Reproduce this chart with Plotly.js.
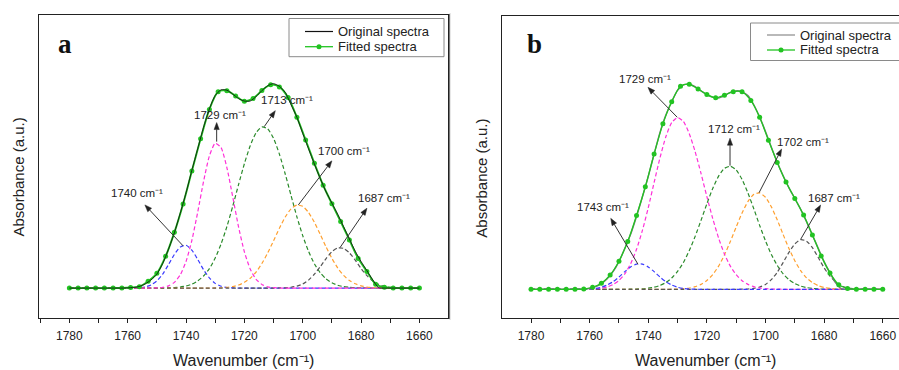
<!DOCTYPE html>
<html>
<head>
<meta charset="utf-8">
<script src="https://cdn.plot.ly/plotly-3.0.1.min.js"></script>
<style>
html,body{margin:0;padding:0;background:#fff;overflow:hidden;}
#chart{width:899px;height:370px;}
</style>
</head>
<body>
<div id="chart"></div>
<script>
// ---------- DATA ----------
const wnFit = [1780,1777,1774,1771,1768,1765,1762,1759,1756,1753,1750,1747,1744,1741,1738,1735,1732,1729,1726,1723,1720,1717,1714,1711,1708,1705,1702,1699,1696,1693,1690,1687,1684,1681,1678,1675,1672,1669,1666,1663,1660];
const wnComp = [1780,1778,1776,1774,1772,1770,1768,1766,1764,1762,1760,1758,1756,1754,1752,1750,1748,1746,1744,1742,1740,1738,1736,1734,1732,1730,1728,1726,1724,1722,1720,1718,1716,1714,1712,1710,1708,1706,1704,1702,1700,1698,1696,1694,1692,1690,1688,1686,1684,1682,1680,1678,1676,1674,1672,1670,1668,1666,1664,1662,1660];
const xTickVals = [1780,1760,1740,1720,1700,1680,1660];
const xTickText = ['1780','1760','1740','1720','1700','1680','1660'];
const legendNames = ['Original spectra','Fitted spectra'];

// Panel a
const fittedA = [0,0,0,0,0,0,0.001,0.003,0.007,0.033,0.072,0.155,0.272,0.411,0.571,0.729,0.872,0.958,0.963,0.938,0.912,0.926,0.964,0.993,0.982,0.93,0.834,0.723,0.609,0.502,0.412,0.325,0.235,0.145,0.081,0.019,0.004,0.001,0,0,0];
const originalA = [0,0,0,0,0,0,0,0,0,0,
 0.001,0.003,0.008,0.02,0.04,0.068,0.12,0.19,0.27,0.365,
 0.465,0.575,0.68,0.785,0.875,0.94,0.968,0.966,0.947,0.925,
 0.913,0.913,0.935,0.964,0.988,0.998,0.985,0.955,0.895,0.834,
 0.755,0.68,0.605,0.535,0.47,0.415,0.36,0.3,0.24,0.18,
 0.13,0.085,0.04,0.002,0,0,0,0,0,0,
 0];
const peak1740A = [0,0,0,0,0,0,0,0,0,0,
 0,0.0005,0.002,0.0055,0.015,0.035,0.068,0.115,0.164,0.2,
 0.209,0.185,0.14,0.09,0.05,0.023,0.009,0.003,0.001,0,
 0,0,0,0,0,0,0,0,0,0,
 0,0,0,0,0,0,0,0,0,0,
 0,0,0,0,0,0,0,0,0,0,
 0];
const peak1729A = [0,0,0,0,0,0,0,0,0,0,
 0,0,0,0,0.0005,0.001,0.004,0.011,0.028,0.064,
 0.13,0.233,0.371,0.52,0.645,0.707,0.686,0.588,0.446,0.299,
 0.177,0.093,0.043,0.018,0.006,0.002,0.0005,0,0,0,
 0,0,0,0,0,0,0,0,0,0,
 0,0,0,0,0,0,0,0,0,0,
 0];
const peak1713A = [0,0,0,0,0,0,0,0,0,0,
 0,0,0,0,0,0.0002,0.0005,0.001,0.0025,0.005,
 0.01,0.019,0.035,0.059,0.095,0.147,0.215,0.3,0.399,0.505,
 0.607,0.695,0.758,0.787,0.777,0.731,0.654,0.557,0.452,0.348,
 0.256,0.179,0.119,0.075,0.045,0.026,0.014,0.007,0.004,0.002,
 0.001,0.0005,0,0,0,0,0,0,0,0,
 0];
const peak1700A = [0,0,0,0,0,0,0,0,0,0,
 0,0,0,0,0,0,0,0,0,0,
 0,0,0,0.0001,0.0003,0.0007,0.0017,0.0037,0.0078,0.015,
 0.028,0.048,0.078,0.12,0.172,0.231,0.292,0.347,0.387,0.405,
 0.399,0.369,0.321,0.262,0.201,0.145,0.098,0.062,0.037,0.021,
 0.011,0.005,0.0025,0.001,0.0004,0,0,0,0,0,
 0];
const peak1687A = [0,0,0,0,0,0,0,0,0,0,
 0,0,0,0,0,0,0,0,0,0,
 0,0,0,0,0,0,0,0,0,0,
 0,0,0,0,0,0.0002,0.0006,0.0015,0.004,0.0094,
 0.02,0.039,0.068,0.104,0.144,0.178,0.196,0.194,0.172,0.136,
 0.096,0.061,0.035,0.018,0.008,0.003,0.001,0.0003,0,0,
 0];

// Panel b
const fittedB = [0,0,0,0,0,0,0.002,0.01,0.029,0.07,0.137,0.233,0.36,0.5,0.66,0.807,0.915,0.99,1.0,0.977,0.95,0.934,0.947,0.964,0.963,0.921,0.839,0.727,0.619,0.523,0.443,0.362,0.265,0.163,0.08,0.022,0.004,0,0,0,0];
const originalB = [0,0,0,0,0,0,0,0,0,0,
 0.005,0.013,0.028,0.052,0.086,0.135,0.2,0.268,0.355,0.45,
 0.55,0.66,0.765,0.85,0.915,0.97,0.997,1.0,0.988,0.968,
 0.95,0.937,0.933,0.945,0.96,0.968,0.963,0.945,0.9,0.84,
 0.77,0.693,0.62,0.555,0.495,0.443,0.39,0.33,0.265,0.2,
 0.135,0.08,0.03,0.002,0,0,0,0,0,0,
 0];
const peak1743B = [0,0,0,0,0,0,0,0,0,0.0005,
 0.0017,0.0044,0.01,0.021,0.037,0.06,0.086,0.109,0.123,0.123,
 0.109,0.086,0.06,0.037,0.021,0.01,0.0044,0.0017,0.0005,0.0001,
 0,0,0,0,0,0,0,0,0,0,
 0,0,0,0,0,0,0,0,0,0,
 0,0,0,0,0,0,0,0,0,0,
 0];
const peak1729B = [0,0,0,0,0,0,0,0,0.0001,0.0004,
 0.001,0.0025,0.0055,0.0116,0.023,0.043,0.075,0.125,0.195,0.287,
 0.398,0.521,0.641,0.744,0.813,0.838,0.818,0.759,0.671,0.565,
 0.452,0.345,0.25,0.172,0.113,0.071,0.042,0.024,0.013,0.0066,
 0.0032,0.0015,0.0006,0.0002,0,0,0,0,0,0,
 0,0,0,0,0,0,0,0,0,0,
 0];
const peak1712B = [0,0,0,0,0,0,0,0,0,0,
 0,0,0,0,0,0.0001,0.0002,0.0005,0.0012,0.0026,
 0.0053,0.0102,0.0188,0.0329,0.0548,0.087,0.131,0.189,0.258,0.336,
 0.417,0.492,0.552,0.59,0.6,0.582,0.536,0.47,0.393,0.312,
 0.236,0.17,0.117,0.076,0.047,0.028,0.0157,0.0084,0.0043,0.0021,
 0.001,0.0004,0.0001,0,0,0,0,0,0,0,
 0];
const peak1702B = [0,0,0,0,0,0,0,0,0,0,
 0,0,0,0,0,0,0,0,0,0,
 0,0,0.0001,0.0002,0.0005,0.0013,0.0029,0.0063,0.0127,0.024,
 0.043,0.072,0.113,0.168,0.233,0.304,0.372,0.428,0.463,0.47,
 0.449,0.402,0.339,0.268,0.199,0.139,0.091,0.056,0.0325,0.0177,
 0.009,0.0043,0.0019,0.0008,0.0003,0.0001,0,0,0,0,
 0];
const peak1687B = [0,0,0,0,0,0,0,0,0,0,
 0,0,0,0,0,0,0,0,0,0,
 0,0,0,0,0,0,0,0,0,0,
 0,0,0,0,0,0.0001,0.0005,0.0015,0.0043,0.0107,
 0.0238,0.047,0.083,0.13,0.18,0.221,0.242,0.235,0.203,0.155,
 0.105,0.064,0.034,0.016,0.0068,0.0026,0.0009,0.0003,0,0,
 0];

const labelsA = ['1740','1729','1713','1700','1687'];
const labelsB = ['1743','1729','1712','1702','1687'];
const unitText = ' cm\u207B\u00B9';

// ---------- STYLE / LAYOUT ----------
const FONT = 'Liberation Sans, Arial, sans-serif';
const cBlue = '#3a3aff', cMag = '#ff2fd8', cGrn = '#2a8a2a', cOrg = '#ffa030', cGry = '#555555';
const fitGreen = '#22c322';
const origA = '#111111', origB = '#7a7a7a';

const W = 899, H = 370;
const px = v => v / W;
const py = v => (H - v) / H;

const geomA = {x0:39.3, x1:448.3, yTop:15, yBot:318, xr:[1790.3,1650.1], yr:[-0.146,1.333]};
const geomB = {x0:502, x1:899, yTop:16, yBot:318, xr:[1789.9,1654.45], yr:[-0.14,1.333]};

function comp(y, color, xa, ya){
  return {x: wnComp, y: y, type:'scatter', mode:'lines', xaxis: xa, yaxis: ya,
    line:{color: color, width:1.2, dash:'4px,2.5px', shape:'spline', smoothing:0.6},
    showlegend:false, hoverinfo:'skip'};
}

const traces = [
  comp(peak1740A, cBlue, 'x', 'y'),
  comp(peak1713A, cGrn, 'x', 'y'),
  comp(peak1700A, cOrg, 'x', 'y'),
  comp(peak1687A, cGry, 'x', 'y'),
  comp(peak1729A, cMag, 'x', 'y'),
  {x: wnFit, y: fittedA, type:'scatter', mode:'lines+markers', name:legendNames[1], showlegend:false,
    xaxis:'x', yaxis:'y', line:{color:fitGreen, width:1.9, shape:'spline', smoothing:0.8},
    marker:{color:fitGreen, size:5}},
  {x: wnComp, y: originalA, type:'scatter', mode:'lines', name:legendNames[0], showlegend:false,
    xaxis:'x', yaxis:'y', line:{color:origA, width:1, shape:'spline', smoothing:0.6}, opacity:0.85},

  comp(peak1712B, cGrn, 'x2', 'y2'),
  comp(peak1702B, cOrg, 'x2', 'y2'),
  comp(peak1687B, cGry, 'x2', 'y2'),
  comp(peak1729B, cMag, 'x2', 'y2'),
  comp(peak1743B, cBlue, 'x2', 'y2'),
  {x: wnComp, y: originalB, type:'scatter', mode:'lines', name:legendNames[0], showlegend:false,
    xaxis:'x2', yaxis:'y2', line:{color:origB, width:1.4, shape:'spline', smoothing:0.6}},
  {x: wnFit, y: fittedB, type:'scatter', mode:'lines+markers', name:legendNames[1], showlegend:false,
    xaxis:'x2', yaxis:'y2', line:{color:fitGreen, width:1.3, shape:'spline', smoothing:0.8},
    marker:{color:fitGreen, size:5}}
];

function xAxis(g, anchor){
  return {domain: [px(g.x0), px(g.x1)], range: g.xr, anchor: anchor, showgrid:false, zeroline:false,
    showline:true, linecolor:'#222', linewidth:1.3, mirror:true,
    ticks:'outside', ticklen:4, tickwidth:1, tickcolor:'#222',
    tickvals: xTickVals, ticktext: xTickText, ticklabelstandoff:2,
    minor:{dtick:10, tick0:1780, ticks:'outside', ticklen:4, tickwidth:1, tickcolor:'#222', showgrid:false},
    tickfont:{family:FONT, size:12, color:'#222'}, fixedrange:true};
}
function yAxis(g, anchor, mirror){
  return {domain: [py(g.yBot), py(g.yTop)], range: g.yr, anchor: anchor, showgrid:false, zeroline:false,
    showline:true, linecolor:'#222', linewidth:1.3, mirror: mirror,
    ticks:'', showticklabels:false, fixedrange:true};
}

// annotation geometry: [headX, headY, tailX, tailY, labelX, labelY]
const arrowsA = [
  [1754.1, 0.406, 1741.0, 0.206, 1756.8, 0.465],
  [1729.5, 0.808, 1729.5, 0.715, 1728.3, 0.845],
  [1709.4, 0.866, 1713.2, 0.788, 1705.4, 0.919],
  [1690.0, 0.621, 1701.5, 0.406, 1685.9, 0.671],
  [1678.0, 0.390, 1687.2, 0.198, 1672.2, 0.442]
];
const arrowsB = [
  [1752.8, 0.346, 1743.5, 0.122, 1755.3, 0.400],
  [1740.1, 0.985, 1730.1, 0.839, 1741.0, 1.024],
  [1712.1, 0.737, 1712.1, 0.603, 1710.8, 0.780],
  [1694.5, 0.684, 1702.2, 0.471, 1687.3, 0.720],
  [1681.2, 0.411, 1688.0, 0.244, 1676.5, 0.447]
];

const annotations = [];
const shapes = [];
function addArrows(list, labels, g, xr, yr){
  const kx = (g.x1 - g.x0) / (g.xr[0] - g.xr[1]);
  const ky = (g.yBot - g.yTop) / (g.yr[1] - g.yr[0]);
  const headLen = 7, headHalf = 2.6;
  list.forEach((a, i) => {
    const hx = a[0], hy = a[1], tx = a[2], ty = a[3];
    let dx = -(hx - tx) * kx, dy = (hy - ty) * ky;
    const L = Math.hypot(dx, dy); dx /= L; dy /= L;
    const toX = ox => -ox / kx, toY = oy => oy / ky;
    const bx = hx + toX(-dx * headLen), by = hy + toY(-dy * headLen);
    const p1x = bx + toX(-dy * headHalf), p1y = by + toY(dx * headHalf);
    const p2x = bx + toX(dy * headHalf),  p2y = by + toY(-dx * headHalf);
    shapes.push({type:'line', xref:xr, yref:yr, x0:tx, y0:ty, x1:bx, y1:by, line:{color:'#333', width:1}});
    shapes.push({type:'path', xref:xr, yref:yr,
      path:`M${hx},${hy} L${p1x},${p1y} L${p2x},${p2y} Z`, fillcolor:'#222', line:{color:'#222', width:0.5}});
    annotations.push({xref:xr, yref:yr, x:a[4], y:a[5], text: labels[i] + unitText,
      showarrow:false, xanchor:'center', yanchor:'middle',
      font:{family:FONT, size:11.5, color:'#222'}});
  });
}
addArrows(arrowsA, labelsA, geomA, 'x', 'y');
addArrows(arrowsB, labelsB, geomB, 'x2', 'y2');

function addLegend(box, rows, lineColors){
  shapes.push({type:'rect', xref:'paper', yref:'paper', x0:px(box.x0), x1:px(box.x1), y0:py(box.y1), y1:py(box.y0),
    line:{color:'#8a8a8a', width:1}, fillcolor:'#ffffff', layer:'above'});
  rows.forEach((r, i) => {
    shapes.push({type:'line', xref:'paper', yref:'paper', x0:px(r.lx0), x1:px(r.lx1), y0:py(r.y), y1:py(r.y),
      line:{color:lineColors[i], width: i === 0 ? 1.2 : 1.3}, layer:'above'});
    if (i === 1) {
      const cx = (r.lx0 + r.lx1) / 2;
      shapes.push({type:'circle', xref:'paper', yref:'paper', x0:px(cx - 2.5), x1:px(cx + 2.5), y0:py(r.y + 2.5), y1:py(r.y - 2.5),
        line:{color:fitGreen, width:0}, fillcolor:fitGreen, layer:'above'});
    }
    annotations.push({xref:'paper', yref:'paper', x:px(r.tx), y:py(r.y), text:legendNames[i], showarrow:false,
      xanchor:'left', yanchor:'middle', font:{family:FONT, size:13, color:'#222'}});
  });
}
addLegend({x0:289, x1:444, y0:18.5, y1:56.7},
  [{lx0:305, lx1:333, tx:336, y:31.5}, {lx0:305, lx1:333, tx:336, y:46.7}], [origA, fitGreen]);
addLegend({x0:750.5, x1:910, y0:23, y1:60.5},
  [{lx0:767, lx1:795, tx:798, y:35}, {lx0:767, lx1:795, tx:798, y:50}], ['#8a8a8a', fitGreen]);

const titleFont = {family:FONT, size:16, color:'#222'};
annotations.push(
  {xref:'paper', yref:'paper', x:px(243.8), y:py(360), text:'Wavenumber (cm\u207B\u00B9)', showarrow:false, xanchor:'center', yanchor:'middle', font:titleFont},
  {xref:'paper', yref:'paper', x:px(705.8), y:py(360), text:'Wavenumber (cm\u207B\u00B9)', showarrow:false, xanchor:'center', yanchor:'middle', font:titleFont},
  {xref:'paper', yref:'paper', x:px(18), y:py(177.5), text:'Absorbance (a.u.)', textangle:-90, showarrow:false, xanchor:'center', yanchor:'middle', font:{family:FONT, size:15, color:'#222'}},
  {xref:'paper', yref:'paper', x:px(480.7), y:py(178), text:'Absorbance (a.u.)', textangle:-90, showarrow:false, xanchor:'center', yanchor:'middle', font:{family:FONT, size:15, color:'#222'}},
  {xref:'paper', yref:'paper', x:px(65), y:py(44), text:'<b>a</b>', showarrow:false, xanchor:'center', yanchor:'middle', font:{family:'Liberation Serif, DejaVu Serif, serif', size:27, color:'#111'}},
  {xref:'paper', yref:'paper', x:px(534), y:py(44), text:'<b>b</b>', showarrow:false, xanchor:'center', yanchor:'middle', font:{family:'Liberation Serif, DejaVu Serif, serif', size:27, color:'#111'}}
);

shapes.push({type:'line', xref:'paper', yref:'paper', x0:px(450), x1:px(450), y0:py(13), y1:py(320), line:{color:'#d0d0d0', width:1}});

const layout = {
  width: W, height: H,
  margin:{l:0, r:0, t:0, b:0},
  paper_bgcolor:'#ffffff', plot_bgcolor:'#ffffff',
  showlegend:false,
  xaxis: xAxis(geomA, 'y'),
  yaxis: yAxis(geomA, 'x', true),
  xaxis2: xAxis(geomB, 'y2'),
  yaxis2: yAxis(geomB, 'x2', false),
  annotations: annotations,
  shapes: shapes
};

Plotly.newPlot('chart', traces, layout, {staticPlot:true, displayModeBar:false});
</script>
</body>
</html>
